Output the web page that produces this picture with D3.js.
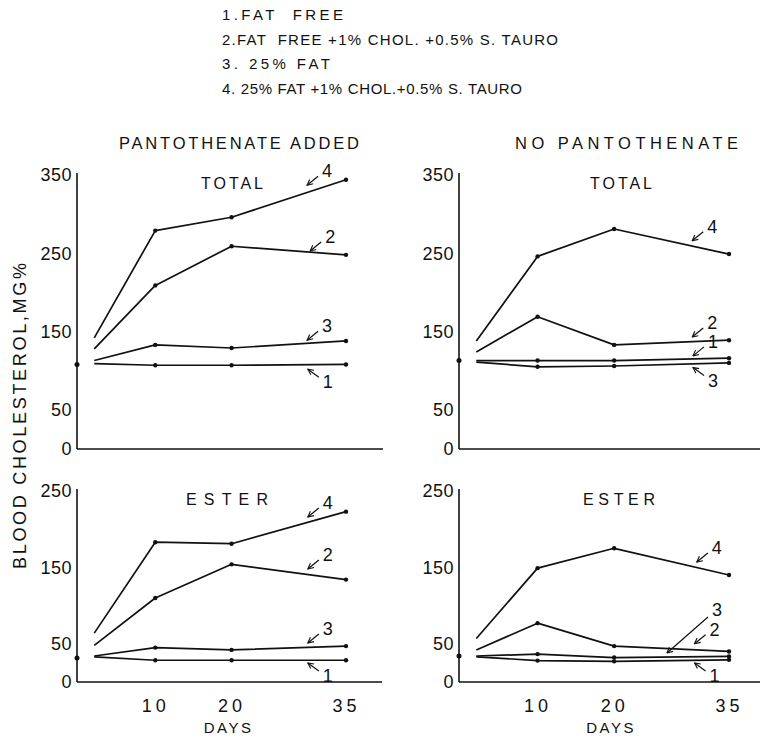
<!DOCTYPE html>
<html>
<head>
<meta charset="utf-8">
<script src="https://cdn.jsdelivr.net/npm/d3@7"></script>
<style>
  body { margin: 0; background: #fff; }
  svg { display: block; }
  text { font-family: "Liberation Sans", "DejaVu Sans", sans-serif; fill: #111; }
</style>
</head>
<body>
<script>
// diets (legend)
const dietLabels = [
    "1.FAT  FREE",
    "2.FAT  FREE +1% CHOL. +0.5% S. TAURO",
    "3. 25% FAT",
    "4. 25% FAT +1% CHOL.+0.5% S. TAURO"
];
const groupTitles = ["PANTOTHENATE ADDED", "NO PANTOTHENATE"];
const sampleDays = [2, 10, 20, 35];
const dayTicks = [10, 20, 35];
const totalTicks = [0, 50, 150, 250, 350];
const esterTicks = [0, 50, 150, 250];

// blood cholesterol mg%, one row per diet 1..4
const totalAdded = [
    [109, 107, 107, 108],
    [128, 209, 259, 248],
    [113, 133, 129, 138],
    [142, 279, 296, 344]
];
const totalNone = [
    [113, 113, 113, 116],
    [124, 169, 133, 139],
    [111, 105, 106, 110],
    [138, 246, 281, 249]
];
const esterAdded = [
    [33, 28.5, 28.5, 28.5],
    [48, 110, 154, 134],
    [34, 45, 42, 47],
    [64, 183, 181, 223]
];
const esterNone = [
    [33, 28, 27, 29],
    [42, 77, 47, 40],
    [34, 36.5, 32, 33.5],
    [57, 149, 175, 140]
];
// day-0 value marked on the axis
const baselines = [108, 113, 31.5, 34];

// arrow labels: [diet, tip day, tip value, label side (-1 above, 1 below)]
const notesTotalAdded = [[4, 29.9, 337, -1], [2, 30.3, 253, -1], [3, 29.9, 139, -1], [1, 30, 102, 1]];
const notesTotalNone = [[4, 30.2, 266, -1], [2, 30.2, 143, -1], [1, 30.3, 119, -1], [3, 30.3, 104, 1]];
const notesEsterAdded = [[4, 30, 216, -1], [2, 30, 148, -1], [3, 30, 51, -1], [1, 30, 25, 1]];
const notesEsterNone = [[4, 30.8, 157, -1], [3, 26.9, 38, -1], [2, 30.5, 50, -1], [1, 30.5, 25, 1]];

const W = 760, H = 740;
const svg = d3.select("body").append("svg")
    .attr("width", W)
    .attr("height", H);

svg.append("defs").append("marker")
    .attr("id", "head")
    .attr("viewBox", "0 -5 10 10")
    .attr("refX", 9)
    .attr("markerWidth", 7)
    .attr("markerHeight", 7)
    .attr("markerUnits", "userSpaceOnUse")
    .attr("orient", "auto")
    .append("path")
    .attr("d", "M1,-4L9,0L1,4")
    .attr("fill", "none")
    .attr("stroke", "#111")
    .attr("stroke-width", 1.6);

// legend, widths
const legendWidths = [121, 336, 108, 300];
svg.append("g").selectAll("text")
    .data(dietLabels)
    .join("text")
    .attr("x", 222)
    .attr("y", (d, i) => 20 + i * 24.5)
    .attr("font-size", 15)
    .attr("xml:space", "preserve")
    .attr("textLength", (d, i) => legendWidths[i])
    .attr("lengthAdjust", "spacing")
    .text(d => d);

svg.append("text").attr("x", 119).attr("y", 149).attr("font-size", 16.5)
    .attr("textLength", 240).attr("lengthAdjust", "spacing").text(groupTitles[0]);
svg.append("text").attr("x", 515).attr("y", 149).attr("font-size", 16.5)
    .attr("textLength", 223).attr("lengthAdjust", "spacing").text(groupTitles[1]);

svg.append("text")
    .attr("transform", "translate(26,416) rotate(-90)")
    .attr("text-anchor", "middle")
    .attr("font-size", 18)
    .attr("textLength", 306).attr("lengthAdjust", "spacing")
    .text("BLOOD CHOLESTEROL,MG%");

const panels = [
    {title: "TOTAL", series: totalAdded, base: baselines[0], notes: notesTotalAdded, ticks: totalTicks,
     max: 350, xr: [79, 346], yr: [449, 175], right: 383, titleX: 232, titleW: 62, days: false},
    {title: "TOTAL", series: totalNone, base: baselines[1], notes: notesTotalNone, ticks: totalTicks,
     max: 350, xr: [461, 729], yr: [449, 175], right: 760, titleX: 621, titleW: 62, days: false},
    {title: "ESTER", series: esterAdded, base: baselines[2], notes: notesEsterAdded, ticks: esterTicks,
     max: 250, xr: [79, 346], yr: [682, 491], right: 382, titleX: 227, titleW: 82, days: true},
    {title: "ESTER", series: esterNone, base: baselines[3], notes: notesEsterNone, ticks: esterTicks,
     max: 250, xr: [461, 729], yr: [682, 491], right: 760, titleX: 619, titleW: 72, days: true}
];

for (const p of panels) {
    const x = d3.scaleLinear().domain([0, 35]).range(p.xr);
    const y = d3.scaleLinear().domain([0, p.max]).range(p.yr);
    const x0 = x(0) - 2;
    const g = svg.append("g");

    // y axis
    const yAxis = g.append("g")
        .attr("transform", `translate(${x0},0)`)
        .call(d3.axisLeft(y).tickValues(p.ticks).tickSize(0).tickPadding(5).tickSizeOuter(0));
    yAxis.select(".domain").attr("stroke", "#111").attr("stroke-width", 1.6)
        .attr("d", `M0,${y(p.max) - 2}V${y(0)}`);
    yAxis.selectAll("text").attr("font-size", 18).attr("letter-spacing", 0.5)
        .attr("font-family", "'Liberation Sans', sans-serif").attr("fill", "#111");

    // x axis line
    g.append("line")
        .attr("x1", x0).attr("x2", p.right)
        .attr("y1", y(0)).attr("y2", y(0))
        .attr("stroke", "#111").attr("stroke-width", 1.6);

    if (p.days) {
        const xAxis = g.append("g")
            .attr("transform", `translate(0,${y(0)})`)
            .call(d3.axisBottom(x).tickValues(dayTicks).tickSize(0).tickPadding(17));
        xAxis.select(".domain").remove();
        xAxis.selectAll("text").attr("font-size", 18).attr("letter-spacing", 4)
            .attr("font-family", "'Liberation Sans', sans-serif").attr("fill", "#111");
        g.append("text")
            .attr("x", x(20) - 3).attr("y", y(0) + 51)
            .attr("text-anchor", "middle")
            .attr("font-size", 15).attr("letter-spacing", 2.5)
            .text("DAYS");
    }

    g.append("text")
        .attr("x", p.titleX - p.titleW / 2).attr("y", y(p.max) + 14)
        .attr("font-size", 16)
        .attr("textLength", p.titleW).attr("lengthAdjust", "spacing")
        .text(p.title);

    // day-0 dot on the axis
    g.append("circle").attr("cx", x0).attr("cy", y(p.base)).attr("r", 2.5).attr("fill", "#111");

    const line = d3.line().x((d, i) => x(sampleDays[i])).y(d => y(d));
    g.append("g").selectAll("path")
        .data(p.series)
        .join("path")
        .attr("d", line)
        .attr("fill", "none")
        .attr("stroke", "#111")
        .attr("stroke-width", 1.7)
        .attr("stroke-linejoin", "round");

    g.append("g").selectAll("circle")
        .data(p.series.flatMap(s => s.slice(1).map((v, i) => [sampleDays[i + 1], v])))
        .join("circle")
        .attr("cx", d => x(d[0])).attr("cy", d => y(d[1]))
        .attr("r", 2.2).attr("fill", "#111");

    // arrow labels
    for (const [diet, day, val, side] of p.notes) {
        const tx = x(day), ty = y(val);
        const below = side > 0;
        const long = p === panels[3] && diet === 3;
        const dx = long ? 41 : 11, dy = long ? -36 : (below ? 8 : -9);
        g.append("line")
            .attr("x1", tx + dx).attr("y1", ty + dy)
            .attr("x2", tx).attr("y2", ty)
            .attr("stroke", "#111").attr("stroke-width", 1.2)
            .attr("marker-end", "url(#head)");
        g.append("text")
            .attr("x", tx + dx + 4).attr("y", ty + dy + (below ? 11 : (long ? -1 : 1)))
            .attr("font-size", 18)
            .text(diet);
    }
}
</script>
</body>
</html>
